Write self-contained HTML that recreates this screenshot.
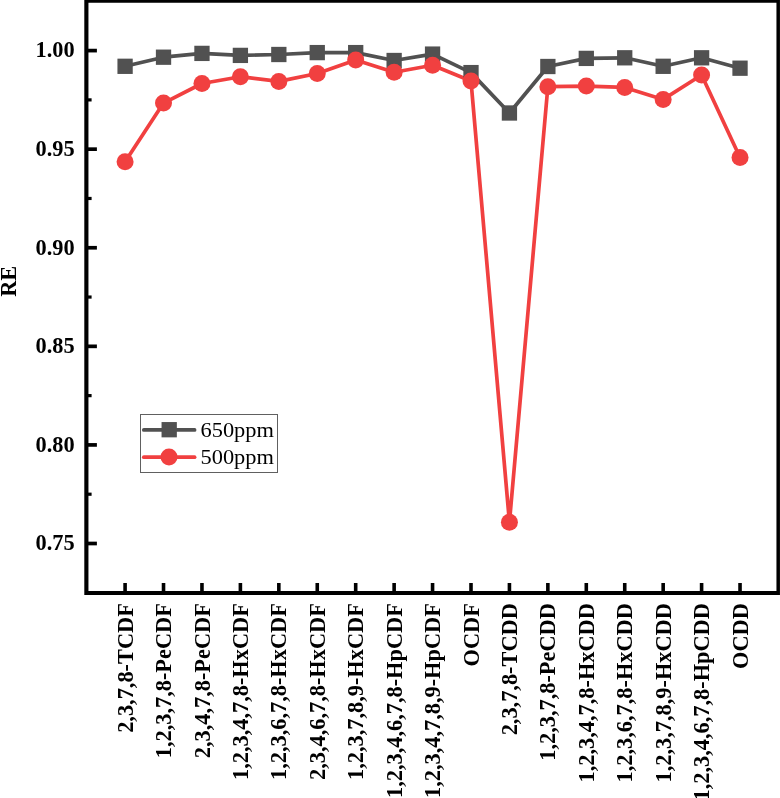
<!DOCTYPE html><html><head><meta charset="utf-8"><style>html,body{margin:0;padding:0;background:#fff;}svg{display:block;filter:blur(0.35px);}text{font-family:"Liberation Serif",serif;}</style></head><body>
<svg width="780" height="798" viewBox="0 0 780 798">
<rect x="0" y="0" width="780" height="798" fill="#fff"/>
<polyline fill="none" stroke="#515151" stroke-width="3.70" stroke-linejoin="round" points="125.09,66.30 163.52,57.20 201.96,53.40 240.39,55.40 278.83,54.50 317.26,52.60 355.69,52.60 394.13,60.50 432.56,54.10 471.00,72.60 509.43,113.00 547.86,66.50 586.30,58.40 624.73,57.80 663.17,66.30 701.60,57.80 740.03,68.20"/>
<polyline fill="none" stroke="#F14040" stroke-width="3.70" stroke-linejoin="round" points="125.09,161.80 163.52,103.10 201.96,83.50 240.39,76.70 278.83,81.40 317.26,73.50 355.69,59.90 394.13,72.30 432.56,65.30 471.00,81.00 509.43,522.30 547.86,86.70 586.30,86.10 624.73,87.40 663.17,99.40 701.60,75.00 740.03,157.50"/>
<rect x="117.44" y="58.65" width="15.3" height="15.3" fill="#515151"/>
<rect x="155.87" y="49.55" width="15.3" height="15.3" fill="#515151"/>
<rect x="194.31" y="45.75" width="15.3" height="15.3" fill="#515151"/>
<rect x="232.74" y="47.75" width="15.3" height="15.3" fill="#515151"/>
<rect x="271.18" y="46.85" width="15.3" height="15.3" fill="#515151"/>
<rect x="309.61" y="44.95" width="15.3" height="15.3" fill="#515151"/>
<rect x="348.04" y="44.95" width="15.3" height="15.3" fill="#515151"/>
<rect x="386.48" y="52.85" width="15.3" height="15.3" fill="#515151"/>
<rect x="424.91" y="46.45" width="15.3" height="15.3" fill="#515151"/>
<rect x="463.35" y="64.95" width="15.3" height="15.3" fill="#515151"/>
<rect x="501.78" y="105.35" width="15.3" height="15.3" fill="#515151"/>
<rect x="540.21" y="58.85" width="15.3" height="15.3" fill="#515151"/>
<rect x="578.65" y="50.75" width="15.3" height="15.3" fill="#515151"/>
<rect x="617.08" y="50.15" width="15.3" height="15.3" fill="#515151"/>
<rect x="655.52" y="58.65" width="15.3" height="15.3" fill="#515151"/>
<rect x="693.95" y="50.15" width="15.3" height="15.3" fill="#515151"/>
<rect x="732.38" y="60.55" width="15.3" height="15.3" fill="#515151"/>
<circle cx="125.09" cy="161.80" r="8.50" fill="#F14040"/>
<circle cx="163.52" cy="103.10" r="8.50" fill="#F14040"/>
<circle cx="201.96" cy="83.50" r="8.50" fill="#F14040"/>
<circle cx="240.39" cy="76.70" r="8.50" fill="#F14040"/>
<circle cx="278.83" cy="81.40" r="8.50" fill="#F14040"/>
<circle cx="317.26" cy="73.50" r="8.50" fill="#F14040"/>
<circle cx="355.69" cy="59.90" r="8.50" fill="#F14040"/>
<circle cx="394.13" cy="72.30" r="8.50" fill="#F14040"/>
<circle cx="432.56" cy="65.30" r="8.50" fill="#F14040"/>
<circle cx="471.00" cy="81.00" r="8.50" fill="#F14040"/>
<circle cx="509.43" cy="522.30" r="8.50" fill="#F14040"/>
<circle cx="547.86" cy="86.70" r="8.50" fill="#F14040"/>
<circle cx="586.30" cy="86.10" r="8.50" fill="#F14040"/>
<circle cx="624.73" cy="87.40" r="8.50" fill="#F14040"/>
<circle cx="663.17" cy="99.40" r="8.50" fill="#F14040"/>
<circle cx="701.60" cy="75.00" r="8.50" fill="#F14040"/>
<circle cx="740.03" cy="157.50" r="8.50" fill="#F14040"/>
<path fill="#000" d="M84.3,0 H779.95 V595.0 H84.3 Z M88.45,2.85 V591.0 H776.45 V2.85 Z" fill-rule="evenodd"/>
<line x1="86.55" y1="50.60" x2="96.9" y2="50.60" stroke="#000" stroke-width="3.7"/>
<line x1="86.55" y1="149.18" x2="96.9" y2="149.18" stroke="#000" stroke-width="3.7"/>
<line x1="86.55" y1="247.76" x2="96.9" y2="247.76" stroke="#000" stroke-width="3.7"/>
<line x1="86.55" y1="346.34" x2="96.9" y2="346.34" stroke="#000" stroke-width="3.7"/>
<line x1="86.55" y1="444.92" x2="96.9" y2="444.92" stroke="#000" stroke-width="3.7"/>
<line x1="86.55" y1="543.50" x2="96.9" y2="543.50" stroke="#000" stroke-width="3.7"/>
<line x1="86.55" y1="99.89" x2="91.6" y2="99.89" stroke="#000" stroke-width="3.2"/>
<line x1="86.55" y1="198.47" x2="91.6" y2="198.47" stroke="#000" stroke-width="3.2"/>
<line x1="86.55" y1="297.05" x2="91.6" y2="297.05" stroke="#000" stroke-width="3.2"/>
<line x1="86.55" y1="395.63" x2="91.6" y2="395.63" stroke="#000" stroke-width="3.2"/>
<line x1="86.55" y1="494.21" x2="91.6" y2="494.21" stroke="#000" stroke-width="3.2"/>
<text transform="translate(74.60,57.40) scale(1,1.070)" font-size="22.35" font-weight="bold" text-anchor="end">1.00</text>
<text transform="translate(74.60,155.98) scale(1,1.070)" font-size="22.35" font-weight="bold" text-anchor="end">0.95</text>
<text transform="translate(74.60,254.56) scale(1,1.070)" font-size="22.35" font-weight="bold" text-anchor="end">0.90</text>
<text transform="translate(74.60,353.14) scale(1,1.070)" font-size="22.35" font-weight="bold" text-anchor="end">0.85</text>
<text transform="translate(74.60,451.72) scale(1,1.070)" font-size="22.35" font-weight="bold" text-anchor="end">0.80</text>
<text transform="translate(74.60,550.30) scale(1,1.070)" font-size="22.35" font-weight="bold" text-anchor="end">0.75</text>
<line x1="125.09" y1="592.79" x2="125.09" y2="583" stroke="#000" stroke-width="3.6"/>
<line x1="163.52" y1="592.79" x2="163.52" y2="583" stroke="#000" stroke-width="3.6"/>
<line x1="201.96" y1="592.79" x2="201.96" y2="583" stroke="#000" stroke-width="3.6"/>
<line x1="240.39" y1="592.79" x2="240.39" y2="583" stroke="#000" stroke-width="3.6"/>
<line x1="278.83" y1="592.79" x2="278.83" y2="583" stroke="#000" stroke-width="3.6"/>
<line x1="317.26" y1="592.79" x2="317.26" y2="583" stroke="#000" stroke-width="3.6"/>
<line x1="355.69" y1="592.79" x2="355.69" y2="583" stroke="#000" stroke-width="3.6"/>
<line x1="394.13" y1="592.79" x2="394.13" y2="583" stroke="#000" stroke-width="3.6"/>
<line x1="432.56" y1="592.79" x2="432.56" y2="583" stroke="#000" stroke-width="3.6"/>
<line x1="471.00" y1="592.79" x2="471.00" y2="583" stroke="#000" stroke-width="3.6"/>
<line x1="509.43" y1="592.79" x2="509.43" y2="583" stroke="#000" stroke-width="3.6"/>
<line x1="547.86" y1="592.79" x2="547.86" y2="583" stroke="#000" stroke-width="3.6"/>
<line x1="586.30" y1="592.79" x2="586.30" y2="583" stroke="#000" stroke-width="3.6"/>
<line x1="624.73" y1="592.79" x2="624.73" y2="583" stroke="#000" stroke-width="3.6"/>
<line x1="663.17" y1="592.79" x2="663.17" y2="583" stroke="#000" stroke-width="3.6"/>
<line x1="701.60" y1="592.79" x2="701.60" y2="583" stroke="#000" stroke-width="3.6"/>
<line x1="740.03" y1="592.79" x2="740.03" y2="583" stroke="#000" stroke-width="3.6"/>
<text transform="translate(132.69,603.20) rotate(-90) scale(1,1.070)" font-size="22.35" font-weight="bold" text-anchor="end">2,3,7,8-TCDF</text>
<text transform="translate(171.12,603.20) rotate(-90) scale(1,1.070)" font-size="22.35" font-weight="bold" text-anchor="end">1,2,3,7,8-PeCDF</text>
<text transform="translate(209.56,603.20) rotate(-90) scale(1,1.070)" font-size="22.35" font-weight="bold" text-anchor="end">2,3,4,7,8-PeCDF</text>
<text transform="translate(247.99,603.20) rotate(-90) scale(1,1.070)" font-size="22.35" font-weight="bold" text-anchor="end">1,2,3,4,7,8-HxCDF</text>
<text transform="translate(286.43,603.20) rotate(-90) scale(1,1.070)" font-size="22.35" font-weight="bold" text-anchor="end">1,2,3,6,7,8-HxCDF</text>
<text transform="translate(324.86,603.20) rotate(-90) scale(1,1.070)" font-size="22.35" font-weight="bold" text-anchor="end">2,3,4,6,7,8-HxCDF</text>
<text transform="translate(363.29,603.20) rotate(-90) scale(1,1.070)" font-size="22.35" font-weight="bold" text-anchor="end">1,2,3,7,8,9-HxCDF</text>
<text transform="translate(401.73,603.20) rotate(-90) scale(1,1.070)" font-size="22.35" font-weight="bold" text-anchor="end">1,2,3,4,6,7,8-HpCDF</text>
<text transform="translate(440.16,603.20) rotate(-90) scale(1,1.070)" font-size="22.35" font-weight="bold" text-anchor="end">1,2,3,4,7,8,9-HpCDF</text>
<text transform="translate(478.60,603.20) rotate(-90) scale(1,1.070)" font-size="22.35" font-weight="bold" text-anchor="end">OCDF</text>
<text transform="translate(517.03,603.20) rotate(-90) scale(1,1.070)" font-size="22.35" font-weight="bold" text-anchor="end">2,3,7,8-TCDD</text>
<text transform="translate(555.46,603.20) rotate(-90) scale(1,1.070)" font-size="22.35" font-weight="bold" text-anchor="end">1,2,3,7,8-PeCDD</text>
<text transform="translate(593.90,603.20) rotate(-90) scale(1,1.070)" font-size="22.35" font-weight="bold" text-anchor="end">1,2,3,4,7,8-HxCDD</text>
<text transform="translate(632.33,603.20) rotate(-90) scale(1,1.070)" font-size="22.35" font-weight="bold" text-anchor="end">1,2,3,6,7,8-HxCDD</text>
<text transform="translate(670.77,603.20) rotate(-90) scale(1,1.070)" font-size="22.35" font-weight="bold" text-anchor="end">1,2,3,7,8,9-HxCDD</text>
<text transform="translate(709.20,603.20) rotate(-90) scale(1,1.070)" font-size="22.35" font-weight="bold" text-anchor="end">1,2,3,4,6,7,8-HpCDD</text>
<text transform="translate(747.63,603.20) rotate(-90) scale(1,1.070)" font-size="22.35" font-weight="bold" text-anchor="end">OCDD</text>
<text transform="translate(15.8,281.3) rotate(-90) scale(1,1.070)" font-size="22.35" font-weight="bold" text-anchor="middle">RE</text>
<rect x="140.5" y="414.5" width="137" height="58" fill="#fff" stroke="#606060" stroke-width="1"/>
<line x1="143.8" y1="429.9" x2="194.6" y2="429.9" stroke="#515151" stroke-width="3.70" stroke-linecap="round"/>
<rect x="161.55" y="422.05" width="15.3" height="15.3" fill="#515151"/>
<line x1="143.8" y1="457.2" x2="194.6" y2="457.2" stroke="#F14040" stroke-width="3.70" stroke-linecap="round"/>
<circle cx="169.0" cy="457.1" r="8.50" fill="#F14040"/>
<text transform="translate(200.50,437.1) scale(1,0.980)" font-size="22.40">650ppm</text>
<text transform="translate(200.50,464.2) scale(1,0.980)" font-size="22.40">500ppm</text>
</svg></body></html>
